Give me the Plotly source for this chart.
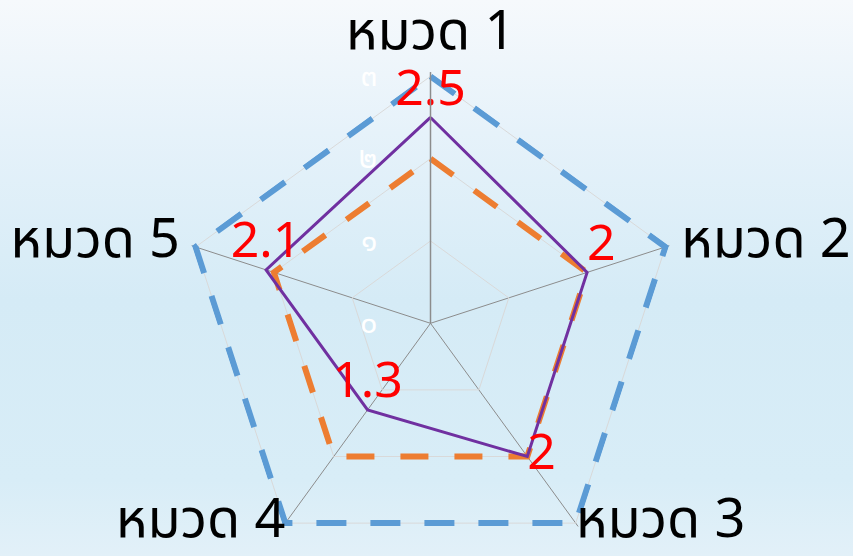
import base64
import plotly.graph_objects as go

categories = ["หมวด 1", "หมวด 2", "หมวด 3", "หมวด 4", "หมวด 5"]
# names drawn as angular tick labels; the two lower ones are placed as text
axis_names = ["หมวด 1", "หมวด 2", "", "", "หมวด 5"]
lower_names = ["หมวด 3", "หมวด 4"]
lower_positions = ["middle right", "middle left"]
full_scores = [3, 3, 3, 3, 3]
target_scores = [2, 2, 2, 2, 2]
actual_scores = [2.5, 2, 2, 1.3, 2.1]
actual_labels = ["2.5", "2", "2", "1.3", "2.1"]
label_positions = ["top center", "top right", "middle right", "top center", "top center"]
tick_values = [0, 1, 2, 3]
tick_labels = ["๐", "๑", "๒", "๓"]

BLUE = "#5B9BD5"
ORANGE = "#ED7D31"
PURPLE = "#7030A0"
FONT = "Tahoma, 'Noto Sans Thai', Loma, Garuda, sans-serif"

# the picture is a crop of a taller slide: the bottom labels fall past the window
W, H = 853, 600


def closed(values):
    return list(values) + [values[0]]


# soft sky gradient behind the chart
svg = ("<svg xmlns='http://www.w3.org/2000/svg' width='853' height='600' preserveAspectRatio='none'>"
       "<defs><linearGradient id='g' x1='0' y1='0' x2='0' y2='1'>"
       "<stop offset='0' stop-color='#f6f9fc'/><stop offset='0.22' stop-color='#e6f2fa'/>"
       "<stop offset='0.5' stop-color='#d5ebf6'/><stop offset='0.8' stop-color='#d8edf7'/>"
       "<stop offset='1' stop-color='#e8f2f9'/></linearGradient></defs>"
       "<rect width='100%' height='100%' fill='url(#g)'/></svg>")
bg_uri = "data:image/svg+xml;base64," + base64.b64encode(svg.encode()).decode()

fig = go.Figure()

fig.add_trace(go.Scatterpolar(r=closed(full_scores), theta=closed(categories),
                              mode="lines", cliponaxis=False,
                              line=dict(color=BLUE, width=6, dash="30px,24px")))
fig.add_trace(go.Scatterpolar(r=closed(target_scores), theta=closed(categories),
                              mode="lines", cliponaxis=False,
                              line=dict(color=ORANGE, width=6, dash="28px,26px")))
fig.add_trace(go.Scatterpolar(r=closed(actual_scores), theta=closed(categories),
                              mode="lines+text", cliponaxis=False,
                              text=actual_labels + [""],
                              textposition=label_positions + ["top center"],
                              textfont=dict(color="#FF0000", size=50, family=FONT),
                              line=dict(color=PURPLE, width=3)))
fig.add_trace(go.Scatterpolar(r=full_scores[:2], theta=lower_names,
                              mode="text", cliponaxis=False,
                              text=lower_names, textposition=lower_positions,
                              textfont=dict(color="black", size=54, family=FONT)))

# centre of the web at (430.5, 323.3) px, value 3 at 247 px; the range runs a
# touch past 3 so the thick outer dashes are not cut by the frame
cx, cy = 430.5, 323.3
r_top = 3.05
rad = 247 * r_top / 3

fig.update_layout(
    width=W, height=H,
    margin=dict(l=0, r=0, t=0, b=0),
    paper_bgcolor="#dcedf7",
    showlegend=False,
    font=dict(family=FONT),
    images=[dict(source=bg_uri, xref="paper", yref="paper", x=0, y=1,
                 sizex=1, sizey=1, sizing="stretch", layer="below")],
    polar=dict(
        domain=dict(x=[(cx - rad) / W, (cx + rad) / W],
                    y=[1 - (cy + rad) / H, 1 - (cy - rad) / H]),
        bgcolor="rgba(0,0,0,0)",
        gridshape="linear",
        radialaxis=dict(range=[0, r_top], angle=90, side="counterclockwise", tickangle=90,
                        tickvals=tick_values, ticktext=tick_labels,
                        tickfont=dict(color="white", size=30, family=FONT),
                        ticks="outside", ticklen=42, tickcolor="rgba(0,0,0,0)",
                        showline=True, linecolor="#8c8c8c", linewidth=1.5,
                        gridcolor="#d9d9d9", gridwidth=1),
        angularaxis=dict(direction="clockwise", rotation=90,
                         tickvals=categories, ticktext=axis_names,
                         tickfont=dict(color="black", size=54, family=FONT),
                         ticks="outside", ticklen=1, tickcolor="rgba(0,0,0,0)",
                         showline=False, gridcolor="#8c8c8c", gridwidth=1),
    ),
)

fig.write_html("out.html", config={"displayModeBar": False},
               post_script="document.body.style.margin='0';"
                           "document.documentElement.style.overflow='hidden';")
